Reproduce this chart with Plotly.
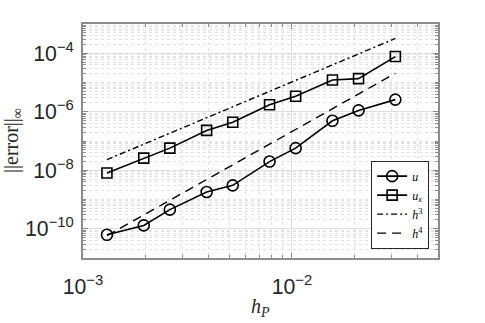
import plotly.graph_objects as go

# mesh sizes h_P
h = [1/768, 1/512, 1/384, 1/256, 1/192, 1/128, 1/96, 1/64, 1/48, 1/32]

# max-norm errors
err_u = [6.2e-11, 1.3e-10, 4.5e-10, 1.8e-9, 3.05e-9, 1.98e-8, 5.7e-8, 4.9e-7, 1.11e-6, 2.6e-6]
err_ux = [8.1e-9, 2.6e-8, 5.7e-8, 2.3e-7, 4.4e-7, 1.74e-6, 3.4e-6, 1.22e-5, 1.36e-5, 7.7e-5]

# reference slopes (end points)
h_ref = [1/768, 1/32]
ref_h3 = [2.3e-8, 3.2e-4]
ref_h4 = [5.8e-11, 2.06e-5]

ink = "#000000"
serif = "Liberation Serif"

fig = go.Figure()
fig.add_trace(go.Scatter(x=h, y=err_u, name="<i>u</i>", mode="lines+markers",
                         line=dict(color=ink, width=1.6),
                         marker=dict(symbol="circle-open", size=11, color=ink, line=dict(width=1.6))))
fig.add_trace(go.Scatter(x=h, y=err_ux, name="<i>u</i><sub><i>x</i></sub>", mode="lines+markers",
                         line=dict(color=ink, width=1.6),
                         marker=dict(symbol="square-open", size=10, color=ink, line=dict(width=1.6))))
fig.add_trace(go.Scatter(x=h_ref, y=ref_h3, name="<i>h</i><sup>3</sup>", mode="lines",
                         line=dict(color=ink, width=1.4, dash="6px,3px,2px,3px")))
fig.add_trace(go.Scatter(x=h_ref, y=ref_h4, name="<i>h</i><sup>4</sup>", mode="lines",
                         line=dict(color=ink, width=1.4, dash="9px,6px")))

axis_common = dict(
    type="log", automargin=False, showline=True, linecolor="#8c8c8c", linewidth=1.5, mirror="ticks",
    ticks="inside", ticklen=5, tickcolor="#8c8c8c",
    showgrid=True, gridcolor="#dedede", gridwidth=1, zeroline=False,
    exponentformat="power", tickfont=dict(family="Liberation Sans", size=17, color="#262626"),
    minor=dict(dtick="D1", ticks="inside", ticklen=3, tickcolor="#8c8c8c",
               showgrid=True, gridcolor="#e2e2e2", griddash="dot", gridwidth=1),
)

fig.update_xaxes(**axis_common, range=[-3, -1.301], dtick=1, ticklabelstandoff=10)
fig.update_yaxes(**axis_common, range=[-11, -3], dtick=2, ticklabelstandoff=4)

# axis titles
fig.add_annotation(text="<i>h</i><sub><i>P</i></sub>", xref="paper", yref="paper",
                   x=0.5, y=-0.15, xanchor="center", yanchor="top", showarrow=False,
                   font=dict(family=serif, size=20, color="#262626"))
fig.add_annotation(text="||error||<sub>∞</sub>", xref="paper", yref="paper",
                   x=-0.2, y=0.5, xanchor="center", yanchor="middle", showarrow=False, textangle=-90,
                   font=dict(family=serif, size=20, color="#262626"))

fig.update_layout(
    width=485, height=323,
    margin=dict(l=83, r=47, t=24, b=65),
    plot_bgcolor="white", paper_bgcolor="white",
    legend=dict(x=0.975, y=0.04, xanchor="right", yanchor="bottom",
                bgcolor="white", bordercolor="#262626", borderwidth=1,
                font=dict(family=serif, size=12, color="#000000"),
                tracegroupgap=0, itemwidth=30),
)

fig.write_html("out.html", config={"displayModeBar": False},
               post_script="document.body.style.margin='0';")
